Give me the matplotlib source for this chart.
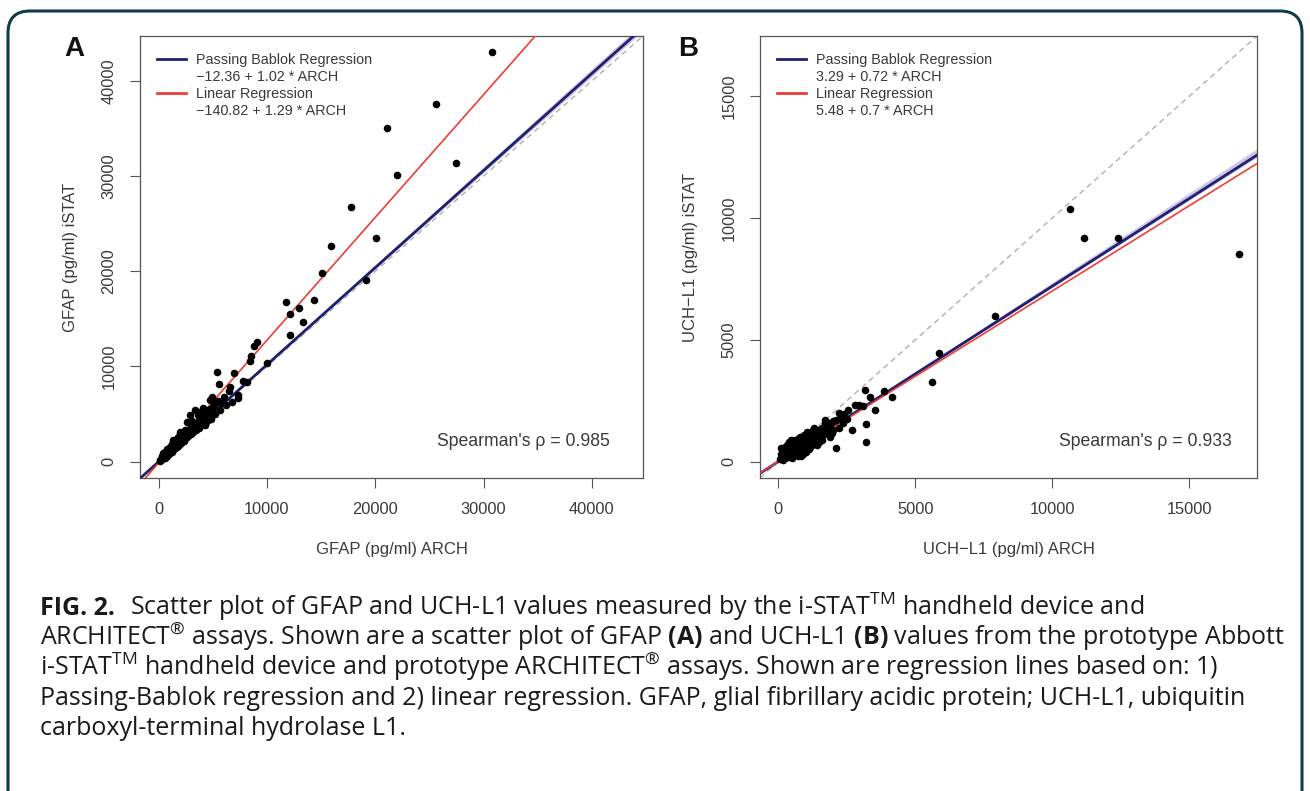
import numpy as np
import matplotlib.pyplot as plt
from matplotlib.lines import Line2D
from matplotlib.patches import FancyBboxPatch
from matplotlib.transforms import IdentityTransform

plt.rcParams['font.family'] = ['Liberation Sans', 'DejaVu Sans']
plt.rcParams['mathtext.fontset'] = 'custom'
plt.rcParams['mathtext.rm'] = 'Open Sans'
plt.rcParams['mathtext.bf'] = 'Open Sans:bold'

# ---- panel A: GFAP ----
gfap_arch = [30780, 25640, 21120, 22040, 27420, 17730, 20100, 15950, 19180, 15050,
             14310, 11790, 12100, 12930, 13320, 12160, 9110, 8770, 8560, 8470,
             10000, 5380, 6930, 7780, 8150, 5570, 6560, 7320, 7320, 4960,
             4710, 5790, 5010, 3320, 3790, 4250, 2860, 4650, 2610, 3790,
             4250, 3480, 1940, 1320, 1020, 400, 90, 150, 250, 350,
             450, 550, 650, 750, 850, 950, 1100, 1200, 1350, 1450,
             1550, 1650, 1750, 1850, 2000, 2100, 2200, 2300, 2450, 2550,
             2650, 2750, 2900, 3000, 3100, 3200, 3350, 3450, 3600, 3700,
             3850, 3950, 4100, 4200, 4400, 4500, 4700, 4850, 5100, 5250,
             5500, 5700, 6000, 6200, 6500, 6800, 2400, 2200, 1800, 3050,
             1600, 800, 600, 3600, 4100, 2950, 5200, 1200, 700, 300]
gfap_istat = [43060, 37550, 35020, 30100, 31410, 26780, 23520, 22630, 19130, 19860,
              17020, 16740, 15550, 16150, 14630, 13340, 12570, 12100, 11050, 10600,
              10360, 9370, 9300, 8500, 8360, 8180, 7830, 7020, 6670, 6840,
              6500, 6150, 5790, 5440, 5260, 5440, 4920, 4920, 4210, 4390,
              3860, 3520, 3160, 2280, 1580, 880, 180, 100, 300, 250,
              500, 420, 700, 600, 950, 800, 1200, 1000, 1500, 1300,
              1750, 1500, 2000, 1700, 2300, 1950, 2550, 2200, 2850, 2450,
              3100, 2650, 3400, 2900, 3650, 3100, 3900, 3300, 4150, 3550,
              4600, 3800, 4800, 4050, 5100, 4300, 5500, 4500, 5900, 5000,
              6400, 5400, 6800, 5900, 7400, 6300, 3300, 3000, 2600, 4300,
              2200, 1300, 1000, 4900, 5600, 3700, 6200, 1800, 500, 550]
gfap_pb = (-12.36, 1.02)
gfap_lm = (-140.82, 1.29)
gfap_pb_ci = ((-12.36, 1.012), (-12.36, 1.032))
gfap_lim = (-1720, 44720)
gfap_ticks = [0, 10000, 20000, 30000, 40000]
gfap_rho = 0.985

# ---- panel B: UCH-L1 ----
uch_arch = [10640, 11140, 12410, 16800, 7900, 5870, 5600, 3170, 3860, 3340,
            4140, 2800, 2950, 3100, 3510, 3210, 2700, 3210, 2400, 2120,
            1970, 1850, 2000, 1700, 2300, 2550, 50, 100, 150, 200,
            250, 300, 350, 400, 450, 500, 550, 600, 650, 700,
            750, 800, 850, 900, 950, 1000, 1050, 1100, 1150, 1200,
            1250, 1300, 1350, 1400, 1450, 1500, 1550, 1600, 1650, 1750,
            1800, 1900, 2100, 2200, 2350, 2500, 90, 820, 300, 600,
            500, 1000, 1200, 700, 400, 800, 1100, 1300, 200, 950,
            1500, 1700, 250, 650, 1050, 1400, 150, 350, 550, 750,
            900, 1250, 1600, 1900, 2000, 450, 850, 1150, 1350, 2200]
uch_istat = [10390, 9180, 9180, 8540, 5970, 4460, 3250, 2940, 2910, 2660,
             2660, 2330, 2330, 2300, 2120, 1560, 1310, 820, 1950, 550,
             1190, 1600, 1650, 1600, 1800, 2100, 100, 300, 50, 250,
             150, 400, 200, 500, 300, 650, 350, 550, 450, 750,
             500, 650, 400, 800, 600, 850, 700, 950, 750, 1000,
             800, 1100, 900, 1200, 950, 1300, 1050, 1400, 1150, 1350,
             1200, 1500, 1700, 1400, 1600, 1750, 550, 240, 700, 900,
             150, 400, 650, 250, 800, 1000, 500, 1400, 550, 1100,
             800, 1700, 600, 850, 1200, 700, 350, 650, 750, 950,
             300, 1300, 900, 1000, 1300, 900, 700, 1050, 1250, 2000]
uch_pb = (3.29, 0.72)
uch_lm = (5.48, 0.70)
uch_pb_ci = ((3.29, 0.715), (3.29, 0.735))
uch_lim = (-672, 17472)
uch_ticks = [0, 5000, 10000, 15000]
uch_rho = 0.933

caption_head = "FIG. 2."
caption_lines = [
    r"Scatter plot of GFAP and UCH-L1 values measured by the i-STAT$^{\mathrm{TM}}$ handheld device and",
    r"ARCHITECT$^{\mathrm{®}}$ assays. Shown are a scatter plot of GFAP $\mathbf{(A)}$ and UCH-L1 $\mathbf{(B)}$ values from the prototype Abbott",
    r"i-STAT$^{\mathrm{TM}}$ handheld device and prototype ARCHITECT$^{\mathrm{®}}$ assays. Shown are regression lines based on: 1)",
    r"Passing-Bablok regression and 2) linear regression. GFAP, glial fibrillary acidic protein; UCH-L1, ubiquitin",
    r"carboxyl-terminal hydrolase L1.",
]

blue = '#1f2070'
red = '#f03c36'
txt = '#3a3a3a'
W, H = 1310, 791

fig = plt.figure(figsize=(W / 100, H / 100), dpi=100)
ax_a = fig.add_axes([140 / W, 1 - 478 / H, 503 / W, 442 / H])
ax_b = fig.add_axes([760 / W, 1 - 478 / H, 497 / W, 442 / H])


def eq(c):
    return f"{c[0]:g} + {c[1]:g} * ARCH".replace('-', '\u2212')


def panel(ax, x, y, pb, lm, ci, lim, ticks, xlab, ylab, rho, rho_x, letter, letter_x):
    ax.set_xlim(lim)
    ax.set_ylim(lim)
    xs = np.array(lim, dtype=float)
    ax.fill_between(xs, ci[0][0] + ci[0][1] * xs, ci[1][0] + ci[1][1] * xs,
                    color='#cdc6e4', lw=0, zorder=1)
    ax.axline((0, 0), slope=1, color='#b0b0b0', ls=(0, (4, 3)), lw=1, zorder=2)
    ax.plot(xs, pb[0] + pb[1] * xs, color=blue, lw=2, zorder=3)
    ax.plot(xs, lm[0] + lm[1] * xs, color=red, lw=1.2, zorder=4)
    ax.scatter(x, y, s=30, color='black', lw=0, zorder=5)

    ax.set_xticks(ticks)
    ax.set_yticks(ticks)
    ax.tick_params(length=7, width=0.8, color='#555555', labelcolor=txt,
                   labelsize=11.8, pad=10)
    ax.tick_params(axis='y', labelrotation=90)
    for lb in ax.get_yticklabels():
        lb.set_va('center')
    for s in ax.spines.values():
        s.set_color('#555555')
        s.set_linewidth(0.9)
    ax.set_xlabel(xlab, fontsize=12, color=txt, labelpad=18)
    ax.set_ylabel(ylab, fontsize=12, color=txt, labelpad=17)

    handles = [Line2D([], [], color=blue, lw=2), Line2D([], [], color='none'),
               Line2D([], [], color=red, lw=2), Line2D([], [], color='none')]
    labels = ['Passing Bablok Regression', eq(pb), 'Linear Regression', eq(lm)]
    leg = ax.legend(handles, labels, loc='upper left', bbox_to_anchor=(0.034, 0.962),
                    frameon=False, borderpad=0, borderaxespad=0, fontsize=10.4,
                    handlelength=2.0, handletextpad=0.7, labelspacing=0.22)
    for t in leg.get_texts():
        t.set_color(txt)

    ax.text(rho_x, 0.082, f"Spearman's \u03c1 = {rho}", transform=ax.transAxes,
            ha='right', va='center', fontsize=12.7, color=txt)
    ax.text(letter_x, 0.97, letter, transform=ax.transAxes, ha='center', va='center',
            fontsize=20, fontweight='bold', color='#111111')


panel(ax_a, gfap_arch, gfap_istat, gfap_pb, gfap_lm, gfap_pb_ci, gfap_lim, gfap_ticks,
      'GFAP (pg/ml) ARCH', 'GFAP (pg/ml) iSTAT', gfap_rho, 0.934, 'A', -0.131)
panel(ax_b, uch_arch, uch_istat, uch_pb, uch_lm, uch_pb_ci, uch_lim, uch_ticks,
      'UCH\u2212L1 (pg/ml) ARCH', 'UCH\u2212L1 (pg/ml) iSTAT', uch_rho, 0.95, 'B', -0.145)

cap_size = 18.0
fig.text(40 / W, 1 - 615 / H, caption_head, fontsize=cap_size, family='Open Sans',
         fontweight='bold', color='#1a1a1a', va='baseline', ha='left')
for i, line in enumerate(caption_lines):
    x0 = 130 if i == 0 else 40
    fig.text(x0 / W, 1 - (615 + 30 * i) / H, line, fontsize=cap_size, family='Open Sans',
             color='#1a1a1a', va='baseline', ha='left')

border = FancyBboxPatch((8, -40), W - 16, H - 11 + 40,
                        boxstyle='round,pad=0,rounding_size=22',
                        transform=IdentityTransform(), fill=False,
                        edgecolor='#0e3c49', linewidth=2.2)
fig.add_artist(border)

fig.savefig('out.png', dpi=100)
